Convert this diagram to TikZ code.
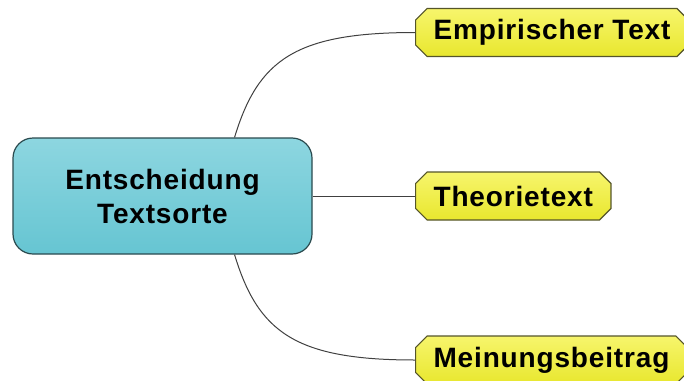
\documentclass[tikz,border=0pt]{standalone}
\usepackage{fontspec}
\setmainfont{Liberation Sans}
\usepackage{tikz}
\usetikzlibrary{arrows, arrows.meta}
\usetikzlibrary{shapes,calc,shadings}
\definecolor{topicTop}{HTML}{8DD6E0}
\definecolor{topicBot}{HTML}{66C5D2}
\definecolor{topicLine}{HTML}{2A4A4E}
\definecolor{subTop}{HTML}{F7F56C}
\definecolor{subBot}{HTML}{E8E72E}
\definecolor{subLine}{HTML}{55552A}
\tikzstyle{link}=[draw=black!75, line width=1pt]
\tikzstyle{topic}=[rectangle, rounded corners=20pt, draw=topicLine, line width=1.2pt,
  top color=topicTop, bottom color=topicBot, minimum width=299pt, minimum height=116pt,
  align=center, text=black]
\tikzstyle{sub}=[chamfered rectangle, chamfered rectangle xsep=8pt, draw=subLine, line width=1.2pt,
  top color=subTop, bottom color=subBot, minimum height=48pt, inner xsep=10pt, anchor=west, text=black]
\tikzset{
    mapfont/.style={font=\fontsize{28}{34}\selectfont\bfseries\addfontfeature{LetterSpace=3}},
    edge at/.style args={#1 and #2}{
         at = ($(#1)!0.74!(#2)$)
    }
}

\begin{document}
\begin{tikzpicture}[x=1pt, y=-1pt]
  \clip (0,0) rectangle (684,380);

  \node (cent)[topic, mapfont] at (162.5,196) {Entscheidung\\Textsorte};
  \node (emp)[sub, mapfont] at (415,32.5) {Empirischer Text};
  \node (theo)[sub, mapfont] at (415,196) {Theorietext};
  \node (mein)[sub, mapfont] at (415,360) {Meinungsbeitrag};

  \coordinate [edge at=cent.north west and cent.north east] (ctop);
  \coordinate [edge at=cent.south west and cent.south east] (cbot);

  \draw[link] (ctop) .. controls (258,60) and (295,32.5) .. (emp.west);
  \draw[link] (cent.east) -- (theo.west);
  \draw[link] (cbot) .. controls (258,332) and (295,360) .. (mein.west);
\end{tikzpicture}
\end{document}
